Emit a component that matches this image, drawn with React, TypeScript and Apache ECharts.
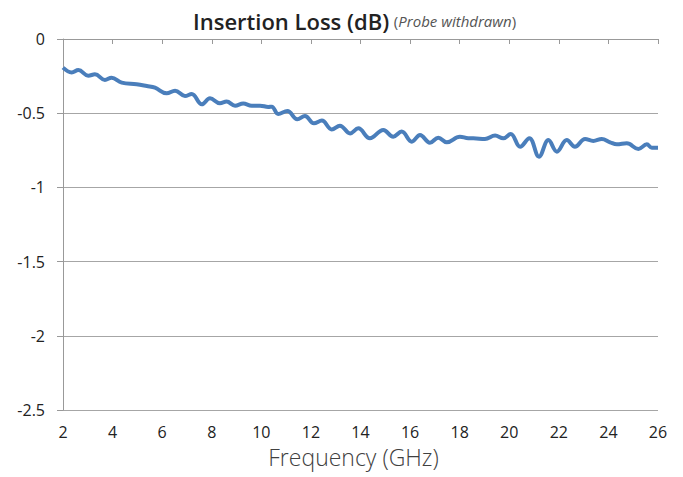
import React, { useEffect, useRef } from "react";
import * as echarts from "echarts";

const freqGHz: number[] = [
  2.0, 2.35, 2.62, 3.02, 3.29, 3.69, 3.96, 4.37, 4.97, 5.38, 5.71, 6.18, 6.52, 6.92, 7.19, 7.6, 7.93, 8.33, 8.6,
  8.94, 9.27, 9.61, 9.95, 10.28, 10.42, 10.68, 11.05, 11.45, 11.76, 12.12, 12.44, 12.84, 13.17, 13.58, 13.91,
  14.38, 14.92, 15.32, 15.66, 16.07, 16.4, 16.8, 17.14, 17.48, 18.01, 18.35, 18.55, 19.02, 19.43, 19.76, 20.06,
  20.44, 20.81, 21.2, 21.58, 21.92, 22.32, 22.65, 23.06, 23.39, 23.73, 24.07, 24.34, 24.74, 25.21, 25.55, 25.75,
  26.0,
];
const lossDB: number[] = [
  -0.193, -0.225, -0.209, -0.247, -0.238, -0.276, -0.261, -0.294, -0.305, -0.317, -0.328, -0.366, -0.348, -0.384,
  -0.371, -0.44, -0.399, -0.433, -0.422, -0.449, -0.435, -0.449, -0.449, -0.458, -0.456, -0.505, -0.485, -0.541,
  -0.519, -0.568, -0.55, -0.609, -0.584, -0.636, -0.602, -0.669, -0.613, -0.658, -0.624, -0.692, -0.647, -0.699,
  -0.665, -0.696, -0.658, -0.669, -0.669, -0.674, -0.651, -0.669, -0.64, -0.726, -0.669, -0.793, -0.681, -0.759,
  -0.681, -0.726, -0.674, -0.687, -0.674, -0.696, -0.71, -0.703, -0.741, -0.71, -0.732, -0.732,
];

const titleMain = "Insertion Loss (dB)";
const titleSub = "Probe withdrawn";
const xAxisName = "Frequency (GHz)";

export default function App() {
  const ref = useRef<HTMLDivElement>(null);
  useEffect(() => {
    if (!ref.current) return;
    const chart = echarts.init(ref.current, undefined, { renderer: "svg" });
    const font = "'Open Sans', 'Noto Sans', sans-serif";
    chart.setOption({
      animation: false,
      backgroundColor: "#ffffff",
      textStyle: { fontFamily: font },
      title: {
        left: 188,
        top: 5,
        text: `{a|${titleMain}} {b|(}{c|${titleSub}}{b|)}`,
        textStyle: {
          fontWeight: "normal",
          rich: {
            a: { fontSize: 22, fontWeight: 600, color: "#222222", fontFamily: font },
            b: { fontSize: 15, fontWeight: "normal", color: "#555555", fontFamily: font },
            c: { fontSize: 15, fontWeight: "normal", fontStyle: "italic", color: "#555555", fontFamily: font },
          },
        },
      },
      grid: { left: 63, right: 25, top: 39, bottom: 67, containLabel: false },
      xAxis: {
        type: "value",
        min: 2,
        max: 26,
        interval: 2,
        name: xAxisName,
        nameLocation: "middle",
        nameGap: 33,
        nameTextStyle: {
          fontSize: 23,
          lineHeight: 24,
          color: "#404040",
          fontWeight: 300,
          fontFamily: font,
          padding: [0, 14, 0, 0],
        },
        axisLine: { show: true, lineStyle: { color: "#999999", width: 1 } },
        axisTick: { show: true, length: 5, lineStyle: { color: "#999999" } },
        axisLabel: { fontSize: 16, lineHeight: 16, color: "#222222", margin: 14, fontFamily: font },
        splitLine: { show: false },
      },
      yAxis: {
        type: "value",
        min: -2.5,
        max: 0,
        interval: 0.5,
        axisLine: { show: true, lineStyle: { color: "#999999", width: 1 } },
        axisTick: { show: true, length: 6, lineStyle: { color: "#999999" } },
        axisLabel: { fontSize: 16, color: "#222222", margin: 18, fontFamily: font },
        splitLine: { show: true, lineStyle: { color: "#a6a6a6", width: 1 } },
      },
      series: [
        {
          type: "line",
          data: freqGHz.map((f, i) => [f, lossDB[i]]),
          smooth: 0.4,
          showSymbol: false,
          symbol: "none",
          lineStyle: { color: "#4a7ebb", width: 4 },
        },
      ],
    });
    return () => chart.dispose();
  }, []);
  return <div ref={ref} style={{ width: 683, height: 477, position: "absolute", left: 0, top: 0 }} />;
}
